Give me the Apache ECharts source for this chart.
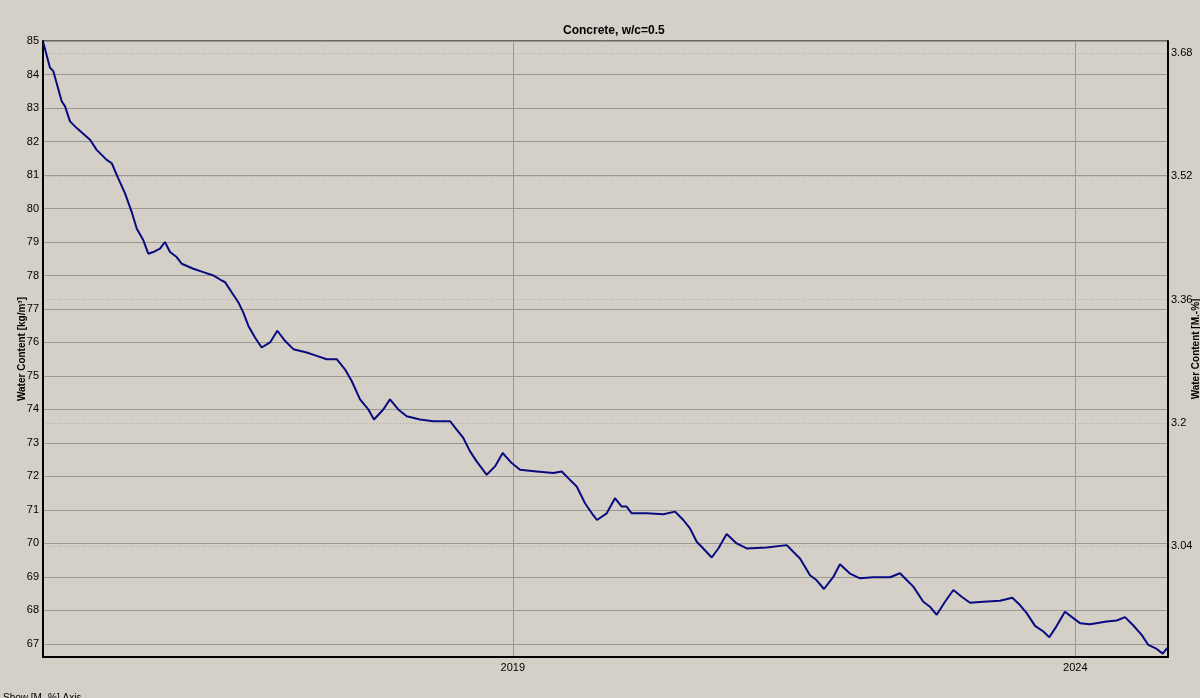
<!DOCTYPE html>
<html>
<head>
<meta charset="utf-8">
<style>
  html, body { margin: 0; padding: 0; background: #d4d0c8; }
  #chart { width: 1200px; height: 698px; }
</style>
<script src="https://cdn.jsdelivr.net/npm/echarts@6/dist/echarts.min.js"></script>
</head>
<body>
<div id="chart"></div>
<script>
// Time in decimal years
const years = [
  2014.827, 2014.886, 2014.916, 2014.990, 2015.020, 2015.064, 2015.124, 2015.242, 2015.301, 2015.390,
  2015.435, 2015.493, 2015.553, 2015.612, 2015.657, 2015.716, 2015.760, 2015.804, 2015.864, 2015.908,
  2015.953, 2016.012, 2016.057, 2016.160, 2016.249, 2016.338, 2016.412, 2016.442, 2016.501, 2016.560,
  2016.604, 2016.649, 2016.708, 2016.768, 2016.842, 2016.907, 2016.975, 2017.049, 2017.168, 2017.257,
  2017.346, 2017.435, 2017.508, 2017.568, 2017.642, 2017.716, 2017.766, 2017.849, 2017.908, 2017.982,
  2018.057, 2018.175, 2018.293, 2018.442, 2018.501, 2018.560, 2018.620, 2018.679, 2018.768, 2018.842,
  2018.910, 2018.990, 2019.064, 2019.212, 2019.360, 2019.435, 2019.493, 2019.568, 2019.642, 2019.713,
  2019.748, 2019.835, 2019.908, 2019.968, 2020.012, 2020.057, 2020.190, 2020.338, 2020.442, 2020.516,
  2020.575, 2020.635, 2020.693, 2020.768, 2020.827, 2020.901, 2020.990, 2021.079, 2021.257, 2021.435,
  2021.493, 2021.553, 2021.642, 2021.701, 2021.766, 2021.849, 2021.908, 2021.997, 2022.086, 2022.204,
  2022.353, 2022.442, 2022.501, 2022.560, 2022.649, 2022.708, 2022.768, 2022.842, 2022.916, 2022.990,
  2023.064, 2023.182, 2023.331, 2023.440, 2023.508, 2023.568, 2023.642, 2023.716, 2023.769, 2023.835,
  2023.908, 2023.982, 2024.042, 2024.131, 2024.279, 2024.368, 2024.442, 2024.516, 2024.590, 2024.649,
  2024.724, 2024.777, 2024.818
];
// Water content [kg/m³]
const water = [
  84.95, 84.20, 84.10, 83.20, 83.05, 82.60, 82.40, 82.05, 81.75, 81.45,
  81.35, 80.90, 80.45, 79.90, 79.40, 79.05, 78.65, 78.70, 78.80, 79.00,
  78.70, 78.55, 78.35, 78.20, 78.10, 78.00, 77.85, 77.80, 77.50, 77.20,
  76.90, 76.50, 76.15, 75.85, 76.00, 76.35, 76.05, 75.80, 75.70, 75.60,
  75.50, 75.50, 75.20, 74.85, 74.30, 74.00, 73.70, 74.00, 74.30, 74.00,
  73.80, 73.70, 73.65, 73.65, 73.40, 73.15, 72.75, 72.45, 72.05, 72.30,
  72.70, 72.40, 72.20, 72.15, 72.10, 72.15, 71.95, 71.70, 71.20, 70.85,
  70.70, 70.90, 71.35, 71.10, 71.10, 70.90, 70.90, 70.87, 70.95, 70.70,
  70.45, 70.05, 69.85, 69.58, 69.85, 70.28, 70.00, 69.85, 69.88, 69.95,
  69.75, 69.55, 69.05, 68.90, 68.64, 69.00, 69.38, 69.10, 68.96, 68.99,
  68.99, 69.11, 68.91, 68.71, 68.26, 68.11, 67.87, 68.26, 68.61, 68.41,
  68.23, 68.26, 68.29, 68.38, 68.16, 67.92, 67.54, 67.37, 67.20, 67.54,
  67.96, 67.77, 67.62, 67.59, 67.67, 67.70, 67.80, 67.55, 67.27, 66.97,
  66.85, 66.71, 66.88
];
const xTickLabels = [2019, 2024];
const leftTicks = [67, 68, 69, 70, 71, 72, 73, 74, 75, 76, 77, 78, 79, 80, 81, 82, 83, 84, 85];
const rightTicks = [3.04, 3.2, 3.36, 3.52, 3.68];
const density = 23; // kg/m³ per M.-%

const xMin = 2014.824, xMax = 2024.824;
const yMin = 66.61, yMax = 85;

const chart = echarts.init(document.getElementById('chart'), null, { renderer: 'canvas' });
const font = 'Liberation Sans, Arial, sans-serif';

chart.setOption({
  animation: false,
  backgroundColor: '#d4d0c8',
  textStyle: { fontFamily: font },
  title: {
    text: 'Concrete, w/c=0.5',
    left: 558, top: 20,
    textStyle: { fontSize: 12, fontWeight: 'bold', color: '#000', fontFamily: font }
  },
  grid: {
    left: 43, right: 32, top: 41, bottom: 41,
    outerBoundsMode: 'none', containLabel: false,
    show: true, borderColor: '#000', borderWidth: 1, backgroundColor: 'transparent'
  },
  graphic: [{
    type: 'text', left: 3, top: 693,
    style: { text: 'Show [M.-%] Axis', fontSize: 10, fill: '#000', fontFamily: font }
  }],
  xAxis: {
    type: 'value', min: xMin, max: xMax,
    axisLine: { show: true, lineStyle: { color: '#000', width: 2 } },
    axisTick: { show: false, customValues: xTickLabels },
    axisLabel: {
      customValues: xTickLabels, color: '#000', fontSize: 11, margin: 5,
      formatter: v => String(Math.round(v))
    },
    splitLine: { show: true, lineStyle: { color: '#9a9890', width: 1 } }
  },
  yAxis: [{
    type: 'value', min: yMin, max: yMax, position: 'left',
    name: 'Water Content [kg/m³]', nameLocation: 'middle', nameGap: 16, nameRotate: 90,
    nameMoveOverlap: false,
    nameTextStyle: { fontSize: 10, fontWeight: 'bold', color: '#000' },
    axisLine: { show: true, lineStyle: { color: '#000', width: 2 } },
    axisTick: { show: false, customValues: leftTicks },
    axisLabel: { customValues: leftTicks, color: '#000', fontSize: 11, margin: 4 },
    splitLine: { show: true, lineStyle: { color: '#9a9890', width: 1 } }
  }, {
    type: 'value', min: yMin / density, max: yMax / density, position: 'right',
    name: 'Water Content [M.-%]', nameLocation: 'middle', nameGap: 23, nameRotate: 90,
    nameMoveOverlap: false,
    nameTextStyle: { fontSize: 10, fontWeight: 'bold', color: '#000' },
    axisLine: { show: true, lineStyle: { color: '#000', width: 2 } },
    axisTick: { show: false, customValues: rightTicks },
    axisLabel: {
      customValues: rightTicks, color: '#000', fontSize: 11, margin: 3,
      formatter: v => String(+v.toFixed(2))
    },
    splitLine: { show: true, lineStyle: { color: '#aeaaa2', width: 1, type: [1, 2] } }
  }],
  series: [{
    type: 'line',
    yAxisIndex: 0,
    data: years.map((t, i) => [t, water[i]]),
    showSymbol: false,
    symbol: 'none',
    lineStyle: { color: '#0a0a80', width: 2 },
    clip: true
  }]
});
</script>
</body>
</html>
